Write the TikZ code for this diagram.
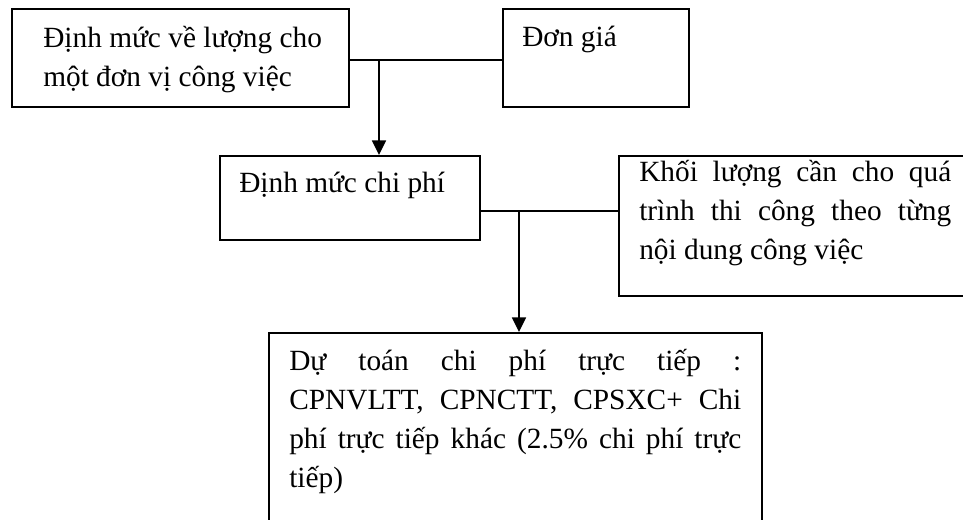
\documentclass[tikz,border=0pt]{standalone}
\usepackage{fontspec}
\setmainfont{Liberation Serif}
\usetikzlibrary{arrows.meta}

% one justified line, stretched to the full text width
\newcommand{\jline}[1]{\noindent\makebox[\linewidth][s]{#1}\par}
% one ragged line
\newcommand{\lline}[1]{\noindent\makebox[\linewidth][l]{#1}\par}

\begin{document}
\begin{tikzpicture}[
  x=0.75pt, y=-0.75pt,
  box/.style={draw, line width=1.35pt, rectangle, anchor=north west, inner sep=0pt},
  txt/.style={anchor=base west, inner sep=0pt, font=\fontsize{22}{29.25}\selectfont},
  conn/.style={line width=1.25pt},
  arr/.style={-{Triangle[width=10.5pt,length=11pt]}}
]
\useasboundingbox (0,0) rectangle (963,520);
\clip (0,0) rectangle (963,520);

% boxes
\node[box, minimum width=252.75pt, minimum height=73.5pt] (b1) at (11,8) {};
\node[box, minimum width=139.5pt,  minimum height=73.5pt] (b2) at (502,8) {};
\node[box, minimum width=195pt,    minimum height=63pt]   (b3) at (219,155) {};
\node[box, minimum width=267.75pt, minimum height=105pt]  (b4) at (618,155) {};
\node[box, minimum width=369.75pt, minimum height=150pt]  (b5) at (268,332) {};

% texts
\node[txt] (t1) at (43,48) {\parbox[t]{230pt}{%
  \lline{Định mức về lượng cho}
  \lline{một đơn vị công việc}}};
\node[txt] (t2) at (522,47) {Đơn giá};
\node[txt] (t3) at (239,193) {Định mức chi phí};
\node[txt] (t4) at (639,182) {\parbox[t]{234pt}{%
  \jline{Khối lượng cần cho quá}
  \jline{trình thi công theo từng}
  \lline{nội dung công việc}}};
\node[txt] (t5) at (289,370) {\parbox[t]{339pt}{%
  \jline{Dự toán chi phí trực tiếp :}
  \jline{CPNVLTT, CPNCTT, CPSXC+ Chi}
  \jline{phí trực tiếp khác (2.5\% chi phí trực}
  \lline{tiếp)}}};

% connectors
\coordinate (j1) at (379,60);
\draw[conn] (b1.east |- j1) -- (b2.west |- j1);
\draw[conn,arr] (j1) -- (j1 |- b3.north);
\coordinate (j2) at (519,211);
\draw[conn] (b3.east |- j2) -- (b4.west |- j2);
\draw[conn,arr] (j2) -- (j2 |- b5.north);
\end{tikzpicture}
\end{document}
